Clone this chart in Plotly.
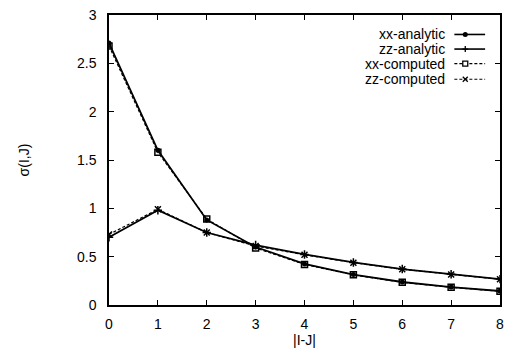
import plotly.graph_objects as go

# separation |I-J|
sep = [0, 1, 2, 3, 4, 5, 6, 7, 8]

# sigma(I,J) values
xx_analytic = [2.71, 1.60, 0.88, 0.60, 0.425, 0.315, 0.238, 0.185, 0.145]
zz_analytic = [0.70, 0.98, 0.75, 0.62, 0.523, 0.44, 0.372, 0.318, 0.268]
xx_computed = [2.68, 1.58, 0.89, 0.59, 0.42, 0.312, 0.235, 0.183, 0.143]
zz_computed = [0.73, 0.99, 0.75, 0.61, 0.52, 0.438, 0.37, 0.316, 0.266]

series_names = ["xx-analytic", "zz-analytic", "xx-computed", "zz-computed"]

FONT = "Liberation Sans, Arial, Helvetica, sans-serif"
L, R, T, B = 109, 8, 7, 47
W, H = 511, 352
PW, PH = W - L - R, H - T - B

fig = go.Figure()

fig.add_trace(go.Scatter(
    x=sep, y=xx_computed, mode="lines+markers", name=series_names[2],
    line=dict(color="black", width=1.2, dash="3px,2px"),
    marker=dict(symbol="square-open", size=6, color="black", line=dict(width=1.5, color="black")),
))
fig.add_trace(go.Scatter(
    x=sep, y=zz_computed, mode="lines+markers", name=series_names[3],
    line=dict(color="black", width=1.2, dash="3px,2px"),
    marker=dict(symbol="x-thin-open", size=6, color="black", line=dict(width=1.5, color="black")),
))
fig.add_trace(go.Scatter(
    x=sep, y=xx_analytic, mode="lines+markers", name=series_names[0],
    line=dict(color="black", width=1.8),
    marker=dict(symbol="circle", size=5, color="black"),
))
fig.add_trace(go.Scatter(
    x=sep, y=zz_analytic, mode="lines+markers", name=series_names[1],
    line=dict(color="black", width=1.8),
    marker=dict(symbol="cross-thin-open", size=6, color="black", line=dict(width=1.5, color="black")),
))


def px_x(p):
    return (p - L) / PW


def px_y(p):
    return (H - B - p) / PH


# key block in the upper right corner
rows = [27, 42, 57, 73]
text_right = 450
key_x0, key_x1, key_mark = 457, 488, 468
annotations = []
shapes = []
marks = ["dot", "plus", "square", "cross"]
dashed = [False, False, True, True]
for name, row, mk, ds in zip(series_names, rows, marks, dashed):
    yy = px_y(row)
    annotations.append(dict(
        x=px_x(text_right), y=yy, xref="paper", yref="paper", text=name,
        showarrow=False, xanchor="right", yanchor="middle",
        font=dict(family=FONT, size=14, color="black"),
    ))
    shapes.append(dict(
        type="line", xref="paper", yref="paper",
        x0=px_x(key_x0), x1=px_x(key_x1), y0=yy, y1=yy,
        line=dict(color="black", width=1.2 if ds else 1.6, dash="3px,2px" if ds else "solid"),
    ))
    common = dict(xref="paper", yref="paper", xsizemode="pixel", ysizemode="pixel",
                  xanchor=px_x(key_mark), yanchor=yy)
    if mk == "dot":
        shapes.append(dict(type="circle", x0=-2.5, x1=2.5, y0=-2.5, y1=2.5,
                           fillcolor="black", line=dict(color="black", width=0), **common))
    elif mk == "square":
        shapes.append(dict(type="rect", x0=-2.5, x1=2.5, y0=-2.5, y1=2.5,
                           fillcolor="white", line=dict(color="black", width=1.3), **common))
    elif mk == "plus":
        shapes.append(dict(type="path", path="M-3,0L3,0M0,-3L0,3",
                           line=dict(color="black", width=1.3), **common))
    else:
        shapes.append(dict(type="path", path="M-2.5,-2.5L2.5,2.5M-2.5,2.5L2.5,-2.5",
                           line=dict(color="black", width=1.3), **common))

axis_common = dict(
    showgrid=False, zeroline=False, showline=True, linecolor="black", linewidth=1.5,
    mirror="ticks", ticks="inside", ticklen=5, tickwidth=1, tickcolor="black",
    tickfont=dict(family=FONT, size=14, color="black"),
)

fig.update_layout(
    width=W, height=H,
    margin=dict(l=L, r=R, t=T, b=B),
    paper_bgcolor="white", plot_bgcolor="white",
    showlegend=False,
    font=dict(family=FONT, color="black"),
    xaxis=dict(range=[0, 8], dtick=1, tick0=0, ticklabelstandoff=5,
               title=dict(text="|I-J|", font=dict(family=FONT, size=14, color="black"), standoff=0),
               **axis_common),
    yaxis=dict(range=[0, 3], dtick=0.5, tick0=0, ticklabelstandoff=8,
               title=dict(text="σ(I,J)", font=dict(family=FONT, size=14, color="black"), standoff=44),
               **axis_common),
    annotations=annotations,
    shapes=shapes,
)

fig.write_html("out.html")
